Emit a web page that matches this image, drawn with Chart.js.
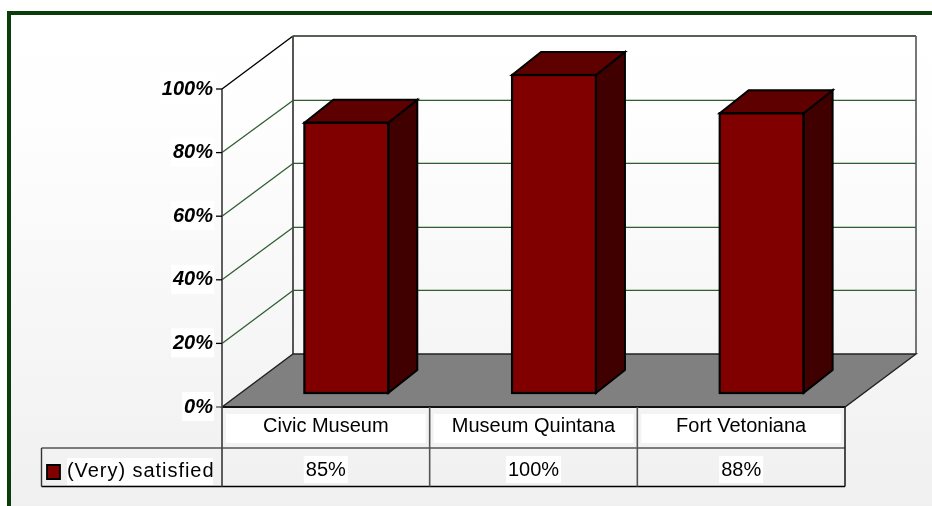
<!DOCTYPE html>
<html>
<head>
<meta charset="utf-8">
<title>Satisfaction</title>
<style>
  html, body { margin: 0; padding: 0; background: #fff; }
  canvas { display: block; }
</style>
<script src="https://cdn.jsdelivr.net/npm/chart.js@4/dist/chart.umd.min.js"></script>
</head>
<body>
<canvas id="chart" width="932" height="506"></canvas>
<script>
const categories = ["Civic Museum", "Museum Quintana", "Fort Vetoniana"];
const seriesName = "(Very) satisfied";
const satisfied = [85, 100, 88];
const yTicks = [0, 20, 40, 60, 80, 100];

const FONT = '"Liberation Sans", Arial, sans-serif';
// offsets from the plane the bars stand on (the chart area)
const front = { dx: -20.5, dy: 14 };
const back = { dx: 50.5, dy: -39 };
const barDepth = { dx: 29, dy: -23 };
const GREEN = "#2f5f2f";

function line(ctx, x1, y1, x2, y2, color, width) {
  ctx.strokeStyle = color;
  ctx.lineWidth = width;
  ctx.beginPath();
  ctx.moveTo(x1, y1);
  ctx.lineTo(x2, y2);
  ctx.stroke();
}

function poly(ctx, pts, fill, stroke, width) {
  ctx.beginPath();
  pts.forEach((p, i) => (i ? ctx.lineTo(p[0], p[1]) : ctx.moveTo(p[0], p[1])));
  ctx.closePath();
  ctx.fillStyle = fill;
  ctx.fill();
  ctx.strokeStyle = stroke;
  ctx.lineWidth = width;
  ctx.lineJoin = "miter";
  ctx.stroke();
}

const scene3d = {
  id: "scene3d",
  beforeDraw(chart) {
    const { ctx, chartArea: a, scales: { y } } = chart;
    const fl = a.left + front.dx, fr = a.right + front.dx;
    const bl = a.left + back.dx, br = a.right + back.dx;
    const row1 = 448, row2 = 486.5, keyLeft = 41.5;
    ctx.save();

    // page background and frame
    const g = ctx.createLinearGradient(0, 15, 0, 506);
    g.addColorStop(0, "#ffffff");
    g.addColorStop(0.2, "#fefefe");
    g.addColorStop(1, "#f0f0f0");
    ctx.fillStyle = g;
    ctx.fillRect(9, 13, 923, 493);
    ctx.fillStyle = "#0b3d0b";
    ctx.fillRect(7, 11, 925, 4);
    ctx.fillRect(7, 11, 4, 495);

    // gridlines on side and back walls
    yTicks.forEach((v) => {
      const p = y.getPixelForValue(v);
      if (v > 0 && v < 100) {
        const by = Math.round(p + back.dy) + 0.5;
        line(ctx, fl, p + front.dy, bl, by, GREEN, 1.3);
        line(ctx, bl, by - 1, br, by - 1, "#c4d0c4", 1);
        line(ctx, bl, by, br, by, GREEN, 1);
      }
    });
    const top = y.getPixelForValue(100), zero = y.getPixelForValue(0);
    line(ctx, bl, top + back.dy, br, top + back.dy, "#1c2c1c", 1.5);
    line(ctx, fl, top + front.dy, bl, top + back.dy, "#000", 1.4);
    line(ctx, bl, top + back.dy, bl, zero + back.dy, "#444", 1.8);
    line(ctx, br, top + back.dy, br, zero + back.dy, "#555", 1.6);

    // floor
    poly(ctx, [
      [fl, zero + front.dy], [fr, zero + front.dy],
      [br, zero + back.dy], [bl, zero + back.dy]
    ], "#808080", "#222", 1.4);
    line(ctx, fl, zero + front.dy, fr, zero + front.dy, "#111", 2);

    // data table: white category cells, then rules
    const cell = (fr - fl) / categories.length;
    categories.forEach((_, i) => {
      ctx.fillStyle = "#fff";
      ctx.fillRect(fl + cell * i + 4, 414, cell - 8, 29);
    });
    line(ctx, keyLeft, row1, fr, row1, "#555", 1.6);
    line(ctx, keyLeft, row2, fr, row2, "#000", 1.6);
    line(ctx, keyLeft, row1, keyLeft, row2, "#333", 1.4);
    line(ctx, fl, top + front.dy, fl, row2, "#444", 1.7);
    for (let i = 1; i <= categories.length; i++) {
      line(ctx, fl + cell * i, zero + front.dy, fl + cell * i, row2, i === categories.length ? "#222" : "#555", 1.6);
    }

    // y tick marks on the front edge
    yTicks.forEach((v) => {
      const p = y.getPixelForValue(v) + front.dy;
      line(ctx, fl - 6, p, fl, p, v === 0 ? "#555" : "#000", 1.3);
    });

    // legend key
    ctx.fillStyle = "#fff";
    ctx.fillRect(67, 458, 146, 27);
    poly(ctx, [[47, 465], [60, 465], [60, 479], [47, 479]], "#800000", "#000", 1.8);
    ctx.font = "20px " + FONT;
    ctx.fillStyle = "#000";
    ctx.textAlign = "left";
    ctx.textBaseline = "middle";
    ctx.letterSpacing = "0.95px";
    ctx.fillText(seriesName, 67, 471);
    ctx.letterSpacing = "0px";

    // value row
    ctx.textAlign = "center";
    satisfied.forEach((v, i) => {
      const cx = fl + cell * (i + 0.5);
      const t = v + "%";
      const w = ctx.measureText(t).width;
      ctx.fillStyle = "#fff";
      ctx.fillRect(cx - w / 2 - 2, 456, w + 4, 27);
      ctx.fillStyle = "#000";
      ctx.fillText(t, cx, 470);
    });
    ctx.restore();
  },
  afterDatasetsDraw(chart) {
    const { ctx } = chart;
    ctx.save();
    chart.getDatasetMeta(0).data.forEach((bar) => {
      const { x, y, base, width } = bar.getProps(["x", "y", "base", "width"], true);
      const l = x - width / 2, r = x + width / 2;
      const dx = barDepth.dx, dy = barDepth.dy;
      poly(ctx, [[r, y], [r + dx, y + dy], [r + dx, base + dy], [r, base]], "#400000", "#000", 2);
      poly(ctx, [[l, y], [l + dx, y + dy], [r + dx, y + dy], [r, y]], "#5f0000", "#000", 2);
      // front outline sits on top of the shared edges
      ctx.strokeStyle = "#000";
      ctx.lineWidth = 2.2;
      ctx.strokeRect(l, y, width, base - y);
    });
    ctx.restore();
  }
};

new Chart(document.getElementById("chart"), {
  type: "bar",
  data: {
    labels: categories,
    datasets: [{
      label: seriesName,
      data: satisfied,
      backgroundColor: "#800000",
      borderColor: "#000",
      borderWidth: 0,
      barPercentage: 0.404,
      categoryPercentage: 1
    }]
  },
  options: {
    responsive: false,
    animation: false,
    layout: { padding: { left: 0, right: 66.5, top: 75, bottom: 0 } },
    plugins: { legend: { display: false }, tooltip: { enabled: false } },
    scales: {
      x: {
        grid: { display: false, drawTicks: false },
        border: { display: false },
        afterFit(scale) { scale.height = 113; },
        ticks: {
          color: "#000",
          font: { family: FONT, size: 20 },
          labelOffset: front.dx,
          padding: 21,
          maxRotation: 0,
          autoSkip: false
        }
      },
      y: {
        min: 0,
        max: 100,
        grid: { display: false, drawTicks: false },
        border: { display: false },
        afterFit(scale) { scale.width = 242.5; },
        ticks: {
          stepSize: 20,
          color: "#000",
          font: { family: FONT, size: 20, weight: "bold", style: "italic" },
          labelOffset: front.dy,
          padding: 29.5,
          showLabelBackdrop: true,
          backdropColor: "#fff",
          backdropPadding: { top: 3, bottom: 2, left: 2, right: 1 },
          callback: (v) => v + "%"
        }
      }
    }
  },
  plugins: [scene3d]
});
</script>
</body>
</html>
